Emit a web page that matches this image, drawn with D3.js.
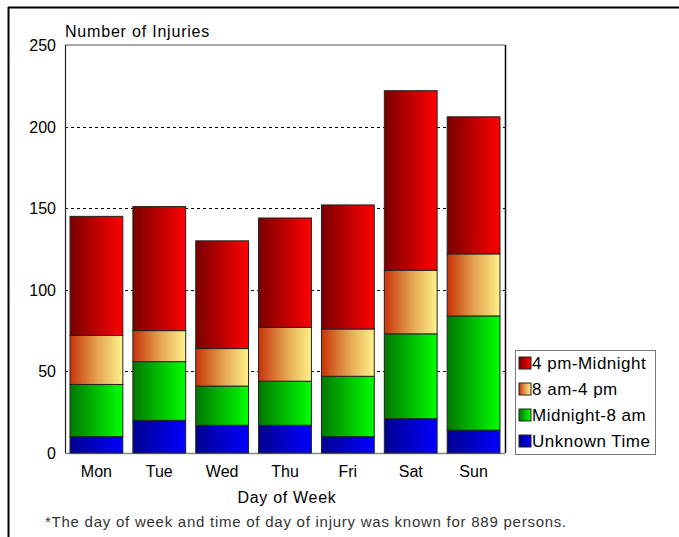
<!DOCTYPE html>
<html>
<head>
<meta charset="utf-8">
<script src="https://d3js.org/d3.v7.min.js"></script>
<style>
  body { margin: 0; background: #fff; }
  svg text { font-family: "Liberation Sans", Arial, sans-serif; fill: #000; }
</style>
</head>
<body>
<script>
var days = ["Mon", "Tue", "Wed", "Thu", "Fri", "Sat", "Sun"];
var seriesNames = ["Unknown Time", "Midnight-8 am", "8 am-4 pm", "4 pm-Midnight"];
var unknownTime = [10, 20, 17, 17, 10, 21, 14];
var midnightTo8 = [32, 36, 24, 27, 37, 52, 70];
var eightTo4 = [30, 19, 23, 33, 29, 39, 38];
var fourToMidnight = [73, 76, 66, 67, 76, 110, 84];
var yTicks = [0, 50, 100, 150, 200, 250];

// gradient stops per series: dark left -> bright right
var grads = [
  ["#000090", "#0000ff"],
  ["#007800", "#00ff00"],
  ["#c83208", "#fff28a"],
  ["#7a0000", "#ff0000"]
];

var table = days.map(function (d, i) {
  return { day: d, "Unknown Time": unknownTime[i], "Midnight-8 am": midnightTo8[i],
           "8 am-4 pm": eightTo4[i], "4 pm-Midnight": fourToMidnight[i] };
});
var stacked = d3.stack().keys(seriesNames)(table);

var W = 679, H = 537;
var plot = { left: 65, right: 505, top: 45, bottom: 453 };

var svg = d3.select("body").append("svg").attr("width", W).attr("height", H);

var defs = svg.append("defs");
grads.forEach(function (g, i) {
  var lg = defs.append("linearGradient").attr("id", "g" + i)
    .attr("x1", "0%").attr("x2", "100%").attr("y1", "0%").attr("y2", "0%");
  lg.append("stop").attr("offset", "0%").attr("stop-color", g[0]);
  if (i == 2) lg.append("stop").attr("offset", "50%").attr("stop-color", "#e2a04e");
  lg.append("stop").attr("offset", "100%").attr("stop-color", g[1]);
});

// outer frame (top and left only)
svg.append("line").attr("x1", 8).attr("x2", W).attr("y1", 7.5).attr("y2", 7.5)
  .attr("stroke", "#000").attr("stroke-width", 2);
svg.append("line").attr("x1", 8.5).attr("x2", 8.5).attr("y1", 7).attr("y2", H)
  .attr("stroke", "#000").attr("stroke-width", 2);

var x = d3.scaleBand().domain(days).range([plot.left, plot.right])
  .paddingInner(0.16).paddingOuter(0.08);
var y = d3.scaleLinear().domain([0, 250]).range([plot.bottom, plot.top]);

// gridlines
svg.append("g").selectAll("line").data(yTicks.filter(function (t) { return t > 0 && t < 250; }))
  .enter().append("line")
  .attr("x1", plot.left).attr("x2", plot.right + 3)
  .attr("y1", function (d) { return Math.round(y(d)) + 0.5; })
  .attr("y2", function (d) { return Math.round(y(d)) + 0.5; })
  .attr("stroke", "#000").attr("stroke-dasharray", "3,3");

// plot border
svg.append("line").attr("x1", plot.left).attr("x2", plot.right).attr("y1", plot.top).attr("y2", plot.top)
  .attr("stroke", "#888").attr("stroke-width", 1.5);
svg.append("line").attr("x1", plot.left).attr("x2", plot.right).attr("y1", plot.bottom + 0.5).attr("y2", plot.bottom + 0.5)
  .attr("stroke", "#888").attr("stroke-width", 1.5);
svg.append("line").attr("x1", plot.left + 0.5).attr("x2", plot.left + 0.5).attr("y1", plot.top).attr("y2", plot.bottom)
  .attr("stroke", "#222").attr("stroke-width", 1.2);
svg.append("line").attr("x1", plot.right + 0.5).attr("x2", plot.right + 0.5).attr("y1", plot.top).attr("y2", plot.bottom)
  .attr("stroke", "#000").attr("stroke-width", 1.5);

// bars
var layers = svg.append("g").selectAll("g").data(stacked).enter().append("g")
  .attr("fill", function (d, i) { return "url(#g" + i + ")"; });
layers.selectAll("rect").data(function (d) { return d; }).enter().append("rect")
  .attr("x", function (d) { return x(d.data.day); })
  .attr("width", x.bandwidth())
  .attr("y", function (d) { return y(d[1]); })
  .attr("height", function (d) { return y(d[0]) - y(d[1]); })
  .attr("stroke", "#222").attr("stroke-width", 1);

// y axis labels
svg.append("g").selectAll("text").data(yTicks).enter().append("text")
  .attr("x", 56).attr("y", function (d) { return y(d) + 6; })
  .attr("text-anchor", "end").attr("font-size", 16)
  .text(function (d) { return d; });

svg.append("text").attr("x", 65).attr("y", 37).attr("font-size", 16)
  .attr("letter-spacing", 0.8).text("Number of Injuries");

// x labels
svg.append("g").selectAll("text").data(days).enter().append("text")
  .attr("x", function (d) { return x(d) + x.bandwidth() / 2; })
  .attr("y", 477).attr("text-anchor", "middle").attr("font-size", 16)
  .text(function (d) { return d; });

svg.append("text").attr("x", 287).attr("y", 503).attr("text-anchor", "middle")
  .attr("font-size", 16).attr("letter-spacing", 0.7).text("Day of Week");

svg.append("text").attr("x", 45).attr("y", 527).attr("font-size", 15)
  .attr("letter-spacing", 0.75).style("fill", "#333")
  .text("*The day of week and time of day of injury was known for 889 persons.");

// legend
var lg = svg.append("g");
lg.append("rect").attr("x", 515.5).attr("y", 350.5).attr("width", 140).attr("height", 104)
  .attr("fill", "#fff").attr("stroke", "#777");
var legendOrder = seriesNames.slice().reverse();
var items = lg.selectAll("g.item").data(legendOrder).enter().append("g")
  .attr("transform", function (d, i) { return "translate(519," + (357 + i * 26) + ")"; });
items.append("rect").attr("width", 12).attr("height", 12)
  .attr("fill", function (d) { return "url(#g" + seriesNames.indexOf(d) + ")"; })
  .attr("stroke", "#222");
items.append("text").attr("x", 13).attr("y", 12).attr("font-size", 17)
  .attr("letter-spacing", 0.5)
  .text(function (d) { return d; });
</script>
</body>
</html>
